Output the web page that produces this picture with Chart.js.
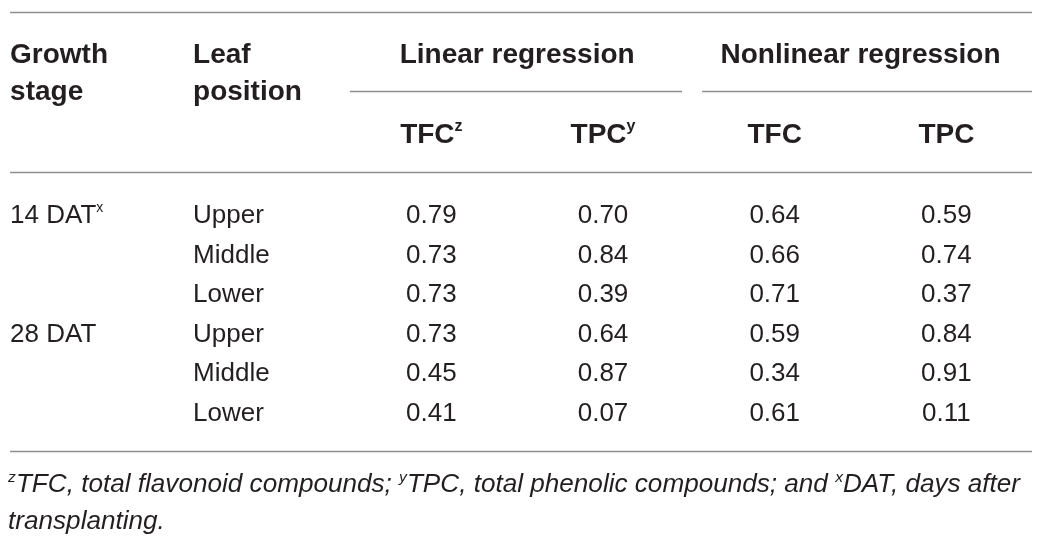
<!DOCTYPE html>
<html>
<head>
<meta charset="utf-8">
<script src="https://cdn.jsdelivr.net/npm/chart.js@4.4.1/dist/chart.umd.min.js"></script>
<style>
    html, body { margin: 0; padding: 0; background: #fff; }
    #TableChart { display: block; }
</style>
</head>
<body>
<canvas id="TableChart" width="1042" height="543"></canvas>
<script>
// Table values
const growthStages = ["14 DAT", "", "", "28 DAT", "", ""];
const growthMarks = ["x", "", "", "", "", ""];
const leafPositions = ["Upper", "Middle", "Lower", "Upper", "Middle", "Lower"];
const linearTFC = [0.79, 0.73, 0.73, 0.73, 0.45, 0.41];
const linearTPC = [0.70, 0.84, 0.39, 0.64, 0.87, 0.07];
const nonlinearTFC = [0.64, 0.66, 0.71, 0.59, 0.34, 0.61];
const nonlinearTPC = [0.59, 0.74, 0.37, 0.84, 0.91, 0.11];

// Header texts
const stageHeader = ["Growth", "stage"];
const leafHeader = ["Leaf", "position"];
const groupHeaders = ["Linear regression", "Nonlinear regression"];
const columnHeaders = ["TFC", "TPC", "TFC", "TPC"];
const columnMarks = ["z", "y", "", ""];
const footnoteLines = [
    [{ sup: "z" }, { t: "TFC, total flavonoid compounds; " }, { sup: "y" },
     { t: "TPC, total phenolic compounds; and " }, { sup: "x" }, { t: "DAT, days after" }],
    [{ t: "transplanting." }]
];

// Layout in scale units (x: column units, y: row units)
const Layout = {
    colX: [-0.454, 0.612, 2, 3, 4, 5],
    colAlign: ["left", "left", "center", "center", "center", "center"],
    tableLeft: -0.454,
    tableRight: 5.499,
    groupRules: [[1.526, 3.46], [3.577, 5.499]],
    topRule: -5.076,
    groupRule: -3.081,
    headRule: -1.035,
    bottomRule: 6.01,
    headLine1: -3.788,
    headLine2: -2.854,
    subHead: -1.768,
    footLines: [7.045, 7.98],
    footWidth: 1012,
};

const Fonts = {
    family: '"Liberation Sans", Arial, Helvetica, sans-serif',
    body: 26,
    head: 28,
    foot: 25,
};
const TextColor = "#231f20";
const RuleColor = "#8f8f8f";

function font(size, style) {
    return (style ? style + " " : "") + size + "px " + Fonts.family;
}

// draws a run of text with optional superscripts
function drawRich(ctx, parts, x, baseline, align, size, style, supSize) {
    const supStyle = style;
    let width = 0;
    for (let p of parts) {
        ctx.font = p.sup ? font(supSize, supStyle) : font(size, style);
        width += ctx.measureText(p.sup || p.t).width;
    }
    let cx = align === "center" ? x - width / 2 : x;
    const capTop = baseline - 0.716 * size;
    for (let p of parts) {
        if (p.sup) {
            ctx.font = font(supSize, supStyle);
            ctx.fillText(p.sup, cx, capTop + 0.53 * supSize);
            cx += ctx.measureText(p.sup).width;
        } else {
            ctx.font = font(size, style);
            ctx.fillText(p.t, cx, baseline);
            cx += ctx.measureText(p.t).width;
        }
    }
    return width;
}

function hRule(ctx, x, y, from, to, at) {
    ctx.beginPath();
    ctx.moveTo(x.getPixelForValue(from), Math.round(y.getPixelForValue(at)) + 0.5);
    ctx.lineTo(x.getPixelForValue(to), Math.round(y.getPixelForValue(at)) + 0.5);
    ctx.stroke();
}

const tablePlugin = {
    id: "tableText",
    afterDatasetsDraw(chart) {
        const { ctx, scales: { x, y } } = chart;
        ctx.save();
        ctx.textBaseline = "alphabetic";
        ctx.textAlign = "left";

        // rules
        ctx.strokeStyle = RuleColor;
        ctx.lineWidth = 1.6;
        hRule(ctx, x, y, Layout.tableLeft, Layout.tableRight, Layout.topRule);
        hRule(ctx, x, y, Layout.tableLeft, Layout.tableRight, Layout.headRule);
        hRule(ctx, x, y, Layout.tableLeft, Layout.tableRight, Layout.bottomRule);
        for (let r of Layout.groupRules)
            hRule(ctx, x, y, r[0], r[1], Layout.groupRule);

        ctx.fillStyle = TextColor;

        // headers
        const h1 = y.getPixelForValue(Layout.headLine1);
        const h2 = y.getPixelForValue(Layout.headLine2);
        const hs = y.getPixelForValue(Layout.subHead);
        drawRich(ctx, [{ t: stageHeader[0] }], x.getPixelForValue(Layout.colX[0]), h1, "left", Fonts.head, "bold", 16);
        drawRich(ctx, [{ t: stageHeader[1] }], x.getPixelForValue(Layout.colX[0]), h2, "left", Fonts.head, "bold", 16);
        drawRich(ctx, [{ t: leafHeader[0] }], x.getPixelForValue(Layout.colX[1]), h1, "left", Fonts.head, "bold", 16);
        drawRich(ctx, [{ t: leafHeader[1] }], x.getPixelForValue(Layout.colX[1]), h2, "left", Fonts.head, "bold", 16);
        groupHeaders.forEach((g, gi) => {
            const mid = (Layout.colX[2 + gi * 2] + Layout.colX[3 + gi * 2]) / 2;
            drawRich(ctx, [{ t: g }], x.getPixelForValue(mid), h1, "center", Fonts.head, "bold", 16);
        });
        columnHeaders.forEach((c, ci) => {
            const parts = [{ t: c }];
            if (columnMarks[ci]) parts.push({ sup: columnMarks[ci] });
            drawRich(ctx, parts, x.getPixelForValue(Layout.colX[2 + ci]), hs, "center", Fonts.head, "bold", 16);
        });

        // body cells, placed on the points the scales computed
        chart.data.datasets.forEach((ds, di) => {
            const meta = chart.getDatasetMeta(di);
            meta.data.forEach((pt, i) => {
                const label = ds.cellText[i];
                if (!label) return;
                const parts = [{ t: label }];
                if (ds.cellMarks && ds.cellMarks[i]) parts.push({ sup: ds.cellMarks[i] });
                drawRich(ctx, parts, pt.x, pt.y + 0.385 * Fonts.body, ds.align, Fonts.body, "", 14);
            });
        });

        // footnote, fitted to the table width
        ctx.font = font(Fonts.foot, "italic");
        let natural = 0;
        for (let p of footnoteLines[0]) {
            ctx.font = p.sup ? font(15, "italic") : font(Fonts.foot, "italic");
            natural += ctx.measureText(p.sup || p.t).width;
        }
        const squeeze = Layout.footWidth / natural;
        const left = x.getPixelForValue(Layout.tableLeft) - 2;
        footnoteLines.forEach((line, li) => {
            ctx.save();
            ctx.translate(left, 0);
            ctx.scale(squeeze, 1);
            drawRich(ctx, line, 0, y.getPixelForValue(Layout.footLines[li]), "left", Fonts.foot, "italic", 15);
            ctx.restore();
        });

        ctx.restore();
    }
};

function buildColumn(texts, colIndex, marks) {
    return {
        data: texts.map((t, i) => ({ x: Layout.colX[colIndex], y: i })),
        cellText: texts,
        cellMarks: marks,
        align: Layout.colAlign[colIndex],
        pointRadius: 0,
        pointHoverRadius: 0,
        showLine: false,
    };
}

const fmt = v => v.toFixed(2);

new Chart(document.getElementById("TableChart"), {
    type: "scatter",
    data: {
        datasets: [
            buildColumn(growthStages, 0, growthMarks),
            buildColumn(leafPositions, 1),
            buildColumn(linearTFC.map(fmt), 2),
            buildColumn(linearTPC.map(fmt), 3),
            buildColumn(nonlinearTFC.map(fmt), 4),
            buildColumn(nonlinearTPC.map(fmt), 5),
        ]
    },
    options: {
        responsive: false,
        animation: false,
        events: [],
        layout: { padding: 0 },
        plugins: {
            legend: { display: false },
            tooltip: { enabled: false },
        },
        scales: {
            x: { type: "linear", display: false, min: -0.5126, max: 5.557 },
            y: { type: "linear", display: false, reverse: true, min: -5.379, max: 8.333 },
        }
    },
    plugins: [tablePlugin]
});
</script>
</body>
</html>
